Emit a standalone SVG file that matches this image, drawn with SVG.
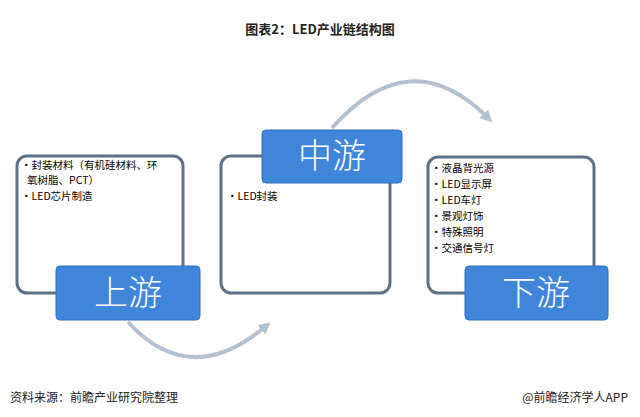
<svg xmlns="http://www.w3.org/2000/svg" width="640" height="417" viewBox="0 0 640 417">
<style>
.box{fill:#fff;stroke:#5d7286;stroke-width:3}
.lab{fill:#3f85da;stroke:#2f6fbf;stroke-width:1}
.lt{font-family:"Noto Sans CJK SC",sans-serif;font-size:34px;font-weight:300;fill:#fff;text-anchor:middle}
.it{font-family:"Noto Sans CJK SC",sans-serif;font-size:10.5px;fill:#000}
.arc{fill:none;stroke:#b3c0d0;stroke-width:4}
.ft{font-family:"Noto Sans CJK SC",sans-serif;font-size:12px;fill:#222}
</style>
<defs><marker id="ah" markerWidth="3" markerHeight="3" refX="1.5" refY="1.5" orient="auto" markerUnits="strokeWidth"><path d="M0,0L3,1.5L0,3z" fill="#b3c0d0"/></marker></defs>
<rect width="640" height="417" fill="#fff"/>
<text x="320" y="34" text-anchor="middle" font-family="Noto Sans CJK SC,sans-serif" font-size="13" font-weight="bold" fill="#222">图表2：LED产业链结构图</text>
<g id="connectors">
<path class="arc" d="M332,128 Q410,40 488,118" marker-end="url(#ah)"/>
<path class="arc" d="M128,322 Q190,390 266,326" marker-end="url(#ah)"/>
</g>
<g id="upstream">
<rect class="box" x="17" y="156" width="166" height="137" rx="10"/>
<text class="it" x="21" y="169">•封装材料（有机硅材料、环</text>
<text class="it" x="27" y="184">氧树脂、PCT）</text>
<text class="it" x="21" y="200">•LED芯片制造</text>
<rect class="lab" x="56" y="266" width="144" height="54" rx="4"/>
<text class="lt" x="128" y="305">上游</text>
</g>
<g id="midstream">
<rect class="box" x="221" y="156" width="169" height="137" rx="10"/>
<text class="it" x="227" y="200">•LED封装</text>
<rect class="lab" x="262" y="130" width="140" height="53" rx="4"/>
<text class="lt" x="332" y="168">中游</text>
</g>
<g id="downstream">
<rect class="box" x="428" y="157" width="166" height="136" rx="10"/>
<text class="it" x="431" y="172">•液晶背光源</text>
<text class="it" x="431" y="188">•LED显示屏</text>
<text class="it" x="431" y="204">•LED车灯</text>
<text class="it" x="431" y="220">•景观灯饰</text>
<text class="it" x="431" y="236">•特殊照明</text>
<text class="it" x="431" y="252">•交通信号灯</text>
<rect class="lab" x="465" y="266" width="143" height="54" rx="4"/>
<text class="lt" x="536" y="305">下游</text>
</g>
<text class="ft" x="10" y="402">资料来源：前瞻产业研究院整理</text>
<text class="ft" x="628" y="402" text-anchor="end">@前瞻经济学人APP</text>
</svg>
